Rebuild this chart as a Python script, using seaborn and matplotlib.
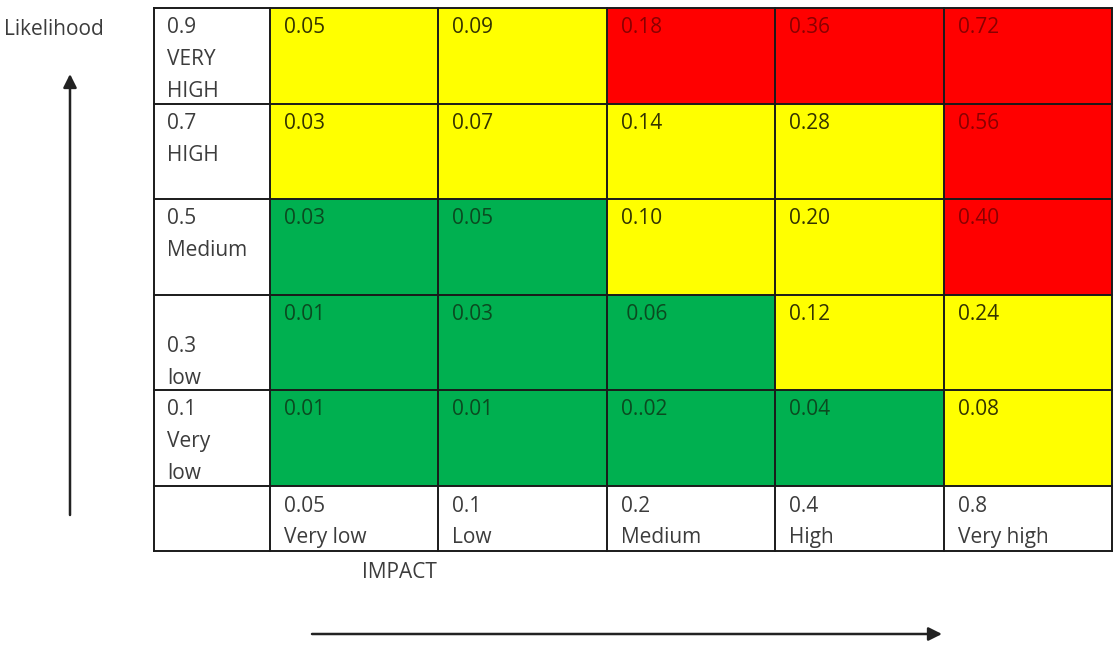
import numpy as np
import pandas as pd
import seaborn as sns
import matplotlib
matplotlib.use("Agg")
import matplotlib.pyplot as plt
from matplotlib.colors import ListedColormap

# ---------------- data ----------------
likelihood_labels = [["0.9", "VERY", "HIGH"],
                     ["0.7", "HIGH"],
                     ["0.5", "Medium"],
                     ["", "0.3", "low"],
                     ["0.1", "Very", "low"]]
impact_labels = [["0.05", "Very low"],
                 ["0.1", "Low"],
                 ["0.2", "Medium"],
                 ["0.4", "High"],
                 ["0.8", "Very high"]]
risk_values = [["0.05", "0.09", "0.18", "0.36", "0.72"],
               ["0.03", "0.07", "0.14", "0.28", "0.56"],
               ["0.03", "0.05", "0.10", "0.20", "0.40"],
               ["0.01", "0.03", " 0.06", "0.12", "0.24"],
               ["0.01", "0.01", "0..02", "0.04", "0.08"]]
# 0 = green (low), 1 = yellow (medium), 2 = red (high)
risk_levels = [[1, 1, 2, 2, 2],
               [1, 1, 1, 1, 2],
               [0, 0, 1, 1, 2],
               [0, 0, 0, 1, 1],
               [0, 0, 0, 0, 1]]
y_title = "Likelihood"
x_title = "IMPACT"

# ---------------- style ----------------
level_colors = ["#00B050", "#FFFF00", "#FF0000"]
level_text = ["#0b4a20", "#333300", "#8a0000"]
label_color = "#3c3c3c"
FONT = ["Open Sans", "DejaVu Sans"]
FS = 15

W, H = 1113, 649
X0, XL, X1 = 154, 270, 1112      # table left, label column right, table right
Y0, Y1, Y2 = 8, 486, 551         # table top, colored block bottom, table bottom
LW = 1.4

sns.set_theme(style="white")
plt.rcParams["font.family"] = FONT

fig = plt.figure(figsize=(W / 100, H / 100), dpi=100)

# heatmap block
hax = fig.add_axes([XL / W, 1 - Y1 / H, (X1 - XL) / W, (Y1 - Y0) / H])
df = pd.DataFrame(risk_levels)
annot = np.array(risk_values, dtype=object)
sns.heatmap(df, ax=hax, cmap=ListedColormap(level_colors), vmin=-0.5, vmax=2.5,
            cbar=False, annot=annot, fmt="", linewidths=0,
            xticklabels=False, yticklabels=False,
            annot_kws={"fontsize": FS, "family": FONT})

nrows, ncols = df.shape
cw = (X1 - XL) / ncols
rh = (Y1 - Y0) / nrows
dx = 14 / cw
dy = 25 / rh
for t in hax.texts:
    x, y = t.get_position()
    j, i = int(x - 0.5), int(y - 0.5)
    t.set_position((j + dx, i + dy))
    t.set_ha("left")
    t.set_va("baseline")
    t.set_color(level_text[risk_levels[i][j]])

# overlay axes in pixel coordinates (on top of the heatmap)
ax = fig.add_axes([0, 0, 1, 1])
ax.set_zorder(3)
ax.patch.set_alpha(0)
ax.set_xlim(0, W)
ax.set_ylim(H, 0)
ax.axis("off")

# grid lines of the full table
col_edges = [X0, XL] + [XL + k * cw for k in range(1, ncols)] + [X1]
row_edges = [Y0] + [Y0 + k * rh for k in range(1, nrows)] + [Y1, Y2]
lc = "#1a1a1a"
for yv in row_edges:
    ax.plot([X0, X1], [yv, yv], color=lc, lw=LW, solid_capstyle="projecting")
for xv in col_edges:
    ax.plot([xv, xv], [Y0, Y2], color=lc, lw=LW, solid_capstyle="projecting")

# row labels
step = 32
for i, lines in enumerate(likelihood_labels):
    top = row_edges[i]
    for k, s in enumerate(lines):
        ax.text(X0 + 13, top + 25 + k * step, s, ha="left", va="baseline",
                fontsize=FS, color=label_color)

# column labels
for j, lines in enumerate(impact_labels):
    left = XL + j * cw
    for k, s in enumerate(lines):
        ax.text(left + 14, Y1 + 26 + k * 31, s, ha="left", va="baseline",
                fontsize=FS, color=label_color)

# titles
ax.text(4, 35, y_title, ha="left", va="baseline", fontsize=FS, color=label_color)
ax.text(399, 578, x_title, ha="center", va="baseline", fontsize=FS, color=label_color)

# arrows
ap = dict(arrowstyle="-|>", lw=1.8, color="#222222", mutation_scale=20,
          shrinkA=0, shrinkB=0)
ax.annotate("", xy=(70, 74), xytext=(70, 515), arrowprops=ap)
ax.annotate("", xy=(942, 634), xytext=(312, 634), arrowprops=ap)

fig.savefig("out.png", dpi=100, facecolor="white")
